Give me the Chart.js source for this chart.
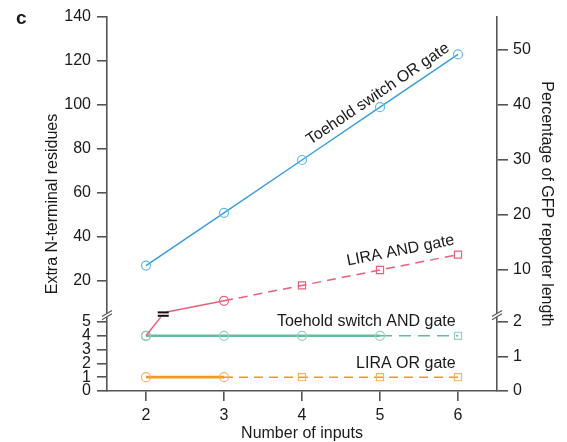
<!DOCTYPE html>
<html>
<head>
<meta charset="utf-8">
<script src="https://cdn.jsdelivr.net/npm/chart.js@4.4.1/dist/chart.umd.min.js"></script>
<style>
  html, body { margin: 0; padding: 0; background: #fff; }
  #wrap { width: 567px; height: 442px; }
</style>
</head>
<body>
<div id="wrap"><canvas id="chart"></canvas></div>
<script>
// number of inputs
const inputs = [2, 3, 4, 5, 6];

// extra N-terminal residues per design
const toeholdOr = [27, 51, 75, 99, 123];
const liraAnd = [4, 11, 18, 25, 32];
const toeholdAnd = [4, 4, 4, 4, 4];
const liraOr = [1, 1, 1, 1, 1];

// largest input count actually built (circles / solid); beyond it: squares / dashed
const builtToeholdOr = 6;
const builtLiraAnd = 3;
const builtToeholdAnd = 5;
const builtLiraOr = 3;

// tick labels
const xTicks = [2, 3, 4, 5, 6];
const leftTopTicks = [20, 40, 60, 80, 100, 120, 140];
const leftBotTicks = [0, 1, 2, 3, 4, 5];
const rightTopTicks = [10, 20, 30, 40, 50];
const rightBotTicks = [0, 1, 2];

// 1 % of the GFP reporter = 2.5 residues
const residuesPerPct = 2.5;

// broken axis
const botMax = 5.5;
const topMin = 4.5;
const topMax = 140;

const BLUE = '#3a9ddb', BLUE_M = '#5fbbe8';
const PINK = '#e8607a', PINK_M = '#e8607a';
const TEAL = '#63bca2', TEAL_M = '#8fd2be';
const ORANGE = '#f29a1e', ORANGE_M = '#f6b35c';
const AXIS = '#555';
const TEXT = '#1a1a1a';

Chart.defaults.font.family = "'Liberation Sans', Arial, sans-serif";
Chart.defaults.font.size = 16;
Chart.defaults.color = TEXT;

const pts = (xs, ys) => xs.map((x, i) => ({ x: x, y: ys[i] }));

function series(label, ys, axis, built, line, marker, solidW, dashW, dash) {
  return {
    label: label,
    data: pts(inputs, ys),
    yAxisID: axis,
    borderColor: line,
    borderWidth: solidW,
    tension: 0,
    pointStyle: c => (inputs[c.dataIndex] <= built ? 'circle' : 'rect'),
    pointRadius: c => (inputs[c.dataIndex] <= built ? 4.5 : 5),
    pointBorderColor: marker,
    pointBackgroundColor: 'rgba(0,0,0,0)',
    pointBorderWidth: 1.2,
    segment: {
      borderDash: c => (inputs[c.p1DataIndex] > built ? dash : []),
      borderWidth: c => (inputs[c.p1DataIndex] > built ? dashW : solidW)
    }
  };
}

// LIRA AND: first point lives in the lower panel, the rest in the upper one
const andLowIdx = liraAnd.map((v, i) => i).filter(i => liraAnd[i] < botMax);
const andHighIdx = liraAnd.map((v, i) => i).filter(i => liraAnd[i] >= botMax);

const andHigh = series('LIRA AND gate', [], 'yTop', builtLiraAnd, PINK, PINK_M, 1.5, 1.5, [9, 6]);
andHigh.data = andHighIdx.map(i => ({ x: inputs[i], y: liraAnd[i] }));
andHigh.pointStyle = c => (andHigh.data[c.dataIndex].x <= builtLiraAnd ? 'circle' : 'rect');
andHigh.pointRadius = c => (andHigh.data[c.dataIndex].x <= builtLiraAnd ? 4.5 : 5);
andHigh.segment = { borderDash: [9, 6] };

const andLow = {
  label: 'LIRA AND gate (low)',
  data: andLowIdx.map(i => ({ x: inputs[i], y: liraAnd[i] })),
  yAxisID: 'yBot',
  showLine: false,
  pointStyle: 'circle',
  pointRadius: 4.5,
  pointBorderColor: '#8c9c96',
  pointBackgroundColor: 'rgba(0,0,0,0)',
  pointBorderWidth: 1.2
};

const datasets = [
  series('Toehold switch OR gate', toeholdOr, 'yTop', builtToeholdOr, BLUE, BLUE_M, 1.5, 1.5, []),
  andHigh,
  series('Toehold switch AND gate', toeholdAnd, 'yBot', builtToeholdAnd, TEAL, TEAL_M, 2.6, 1.6, [12, 7]),
  series('LIRA OR gate', liraOr, 'yBot', builtLiraOr, ORANGE, ORANGE_M, 2.8, 1.5, [9, 6]),
  andLow
];

// text labels placed along the lines (anchor x in data units)
const lineLabels = [
  { text: 'Toehold switch OR gate', ys: toeholdOr, axis: 'yTop', at: 5.06, off: 12, rotate: true },
  { text: 'LIRA AND gate', ys: liraAnd, axis: 'yTop', at: 5.3, off: 15, rotate: true },
  { text: 'Toehold switch AND gate', ys: toeholdAnd, axis: 'yBot', at: 5.97, off: 14, rotate: false },
  { text: 'LIRA OR gate', ys: liraOr, axis: 'yBot', at: 5.97, off: 14, rotate: false }
];

function fixedTicks(list) {
  return s => { s.ticks = list.map(v => ({ value: v })); };
}

function yScale(pos, stack, weight, sw, min, max, list, width) {
  return {
    type: 'linear',
    position: pos,
    stack: stack,
    stackWeight: sw,
    weight: weight,
    min: min,
    max: max,
    afterBuildTicks: fixedTicks(list),
    afterFit: s => { s.width = width; },
    border: { display: true, color: AXIS, width: 1.6 },
    grid: { drawOnChartArea: false, drawTicks: true, tickLength: pos === 'left' ? 10 : 11, color: AXIS, lineWidth: 1.6 },
    ticks: { autoSkip: false, padding: pos === 'left' ? 6 : 5, color: TEXT, font: { size: 16 } }
  };
}

const overlay = {
  id: 'overlay',
  afterDatasetsDraw(chart) {
    const { ctx, scales, chartArea } = chart;
    const x = scales.x, yT = scales.yTop, yB = scales.yBot;
    ctx.save();

    // LIRA AND connector across the break
    const a = andLowIdx[andLowIdx.length - 1], b = andHighIdx[0];
    const t = (botMax - liraAnd[a]) / (liraAnd[b] - liraAnd[a]);
    const xb = x.getPixelForValue(inputs[a] + t * (inputs[b] - inputs[a]));
    const yLow = yB.getPixelForValue(botMax), yHigh = yT.getPixelForValue(botMax);
    ctx.strokeStyle = PINK;
    ctx.lineWidth = 1.5;
    ctx.beginPath();
    ctx.moveTo(x.getPixelForValue(inputs[a]), yB.getPixelForValue(liraAnd[a]));
    ctx.lineTo(xb - 2, yLow + 2);
    ctx.stroke();
    ctx.beginPath();
    ctx.moveTo(xb + 4, yHigh - 1);
    ctx.lineTo(x.getPixelForValue(inputs[b]), yT.getPixelForValue(liraAnd[b]));
    ctx.stroke();
    const ym = (yLow + yHigh) / 2;
    ctx.fillStyle = '#111';
    ctx.fillRect(xb - 5, ym - 2.6, 11, 2);
    ctx.fillRect(xb - 5, ym + 0.8, 11, 2);

    // axis break marks
    const yBreak = yB.top;
    [chartArea.left, chartArea.right].forEach(ax => {
      ctx.strokeStyle = '#fff';
      ctx.lineWidth = 3;
      ctx.beginPath();
      ctx.moveTo(ax - 4, yBreak + 2.5);
      ctx.lineTo(ax + 4, yBreak - 2.5);
      ctx.stroke();
      ctx.strokeStyle = AXIS;
      ctx.lineWidth = 1.1;
      [-1.6, 1.6].forEach(d => {
        ctx.beginPath();
        ctx.moveTo(ax - 5, yBreak + 3 + d);
        ctx.lineTo(ax + 5, yBreak - 3 + d);
        ctx.stroke();
      });
    });

    // labels along the lines
    ctx.fillStyle = TEXT;
    ctx.font = "16px 'Liberation Sans', Arial, sans-serif";
    lineLabels.forEach(l => {
      const ys = scales[l.axis];
      let i = 0;
      while (i < inputs.length - 2 && inputs[i + 1] < l.at) i++;
      const x0 = x.getPixelForValue(inputs[i]), y0 = ys.getPixelForValue(l.ys[i]);
      const x1 = x.getPixelForValue(inputs[i + 1]), y1 = ys.getPixelForValue(l.ys[i + 1]);
      const px = x.getPixelForValue(l.at);
      const py = y0 + (y1 - y0) * (px - x0) / (x1 - x0);
      ctx.save();
      ctx.translate(px, py);
      if (l.rotate) {
        ctx.rotate(Math.atan2(y1 - y0, x1 - x0));
        ctx.textAlign = 'center';
      } else {
        ctx.textAlign = 'right';
      }
      ctx.textBaseline = 'middle';
      ctx.fillText(l.text, 0, -l.off);
      ctx.restore();
    });

    // axis titles
    const midY = (chartArea.top + chartArea.bottom) / 2;
    ctx.textBaseline = 'alphabetic';
    ctx.textAlign = 'center';
    ctx.save();
    ctx.translate(57, midY);
    ctx.rotate(-Math.PI / 2);
    ctx.fillText('Extra N-terminal residues', 0, 0);
    ctx.restore();
    ctx.save();
    ctx.translate(542, midY);
    ctx.rotate(Math.PI / 2);
    ctx.fillText('Percentage of GFP reporter length', 0, 0);
    ctx.restore();
    ctx.fillText('Number of inputs', (chartArea.left + chartArea.right) / 2, 438);

    // panel letter
    ctx.textAlign = 'left';
    ctx.font = "bold 19px 'Liberation Sans', Arial, sans-serif";
    ctx.fillText('c', 16, 24);
    ctx.restore();
  }
};

new Chart(document.getElementById('chart'), {
  type: 'line',
  data: { datasets: datasets },
  options: {
    responsive: true,
    maintainAspectRatio: false,
    animation: false,
    devicePixelRatio: 1,
    layout: { padding: { top: 17, left: 0, right: 0, bottom: 0 } },
    plugins: { legend: { display: false }, tooltip: { enabled: false } },
    scales: {
      x: {
        type: 'linear',
        min: 1.5,
        max: 6.5,
        afterBuildTicks: fixedTicks(xTicks),
        afterFit: s => { s.height = 51; },
        border: { display: true, color: AXIS, width: 1.6 },
        grid: { drawOnChartArea: false, drawTicks: true, tickLength: 10, color: AXIS, lineWidth: 1.6 },
        ticks: { autoSkip: false, padding: 5, maxRotation: 0, color: TEXT, font: { size: 16 } }
      },
      yTop: yScale('left', 'L', 2, (topMax - topMin) * 2.2, topMin, topMax, leftTopTicks, 107),
      yBot: yScale('left', 'L', 1, botMax * 13.8, 0, botMax, leftBotTicks, 107),
      yRTop: yScale('right', 'R', 1, (topMax - topMin) * 2.2, topMin / residuesPerPct, topMax / residuesPerPct, rightTopTicks, 70),
      yRBot: yScale('right', 'R', 2, botMax * 13.8, 0, botMax / residuesPerPct, rightBotTicks, 70)
    }
  },
  plugins: [overlay]
});
</script>
</body>
</html>
